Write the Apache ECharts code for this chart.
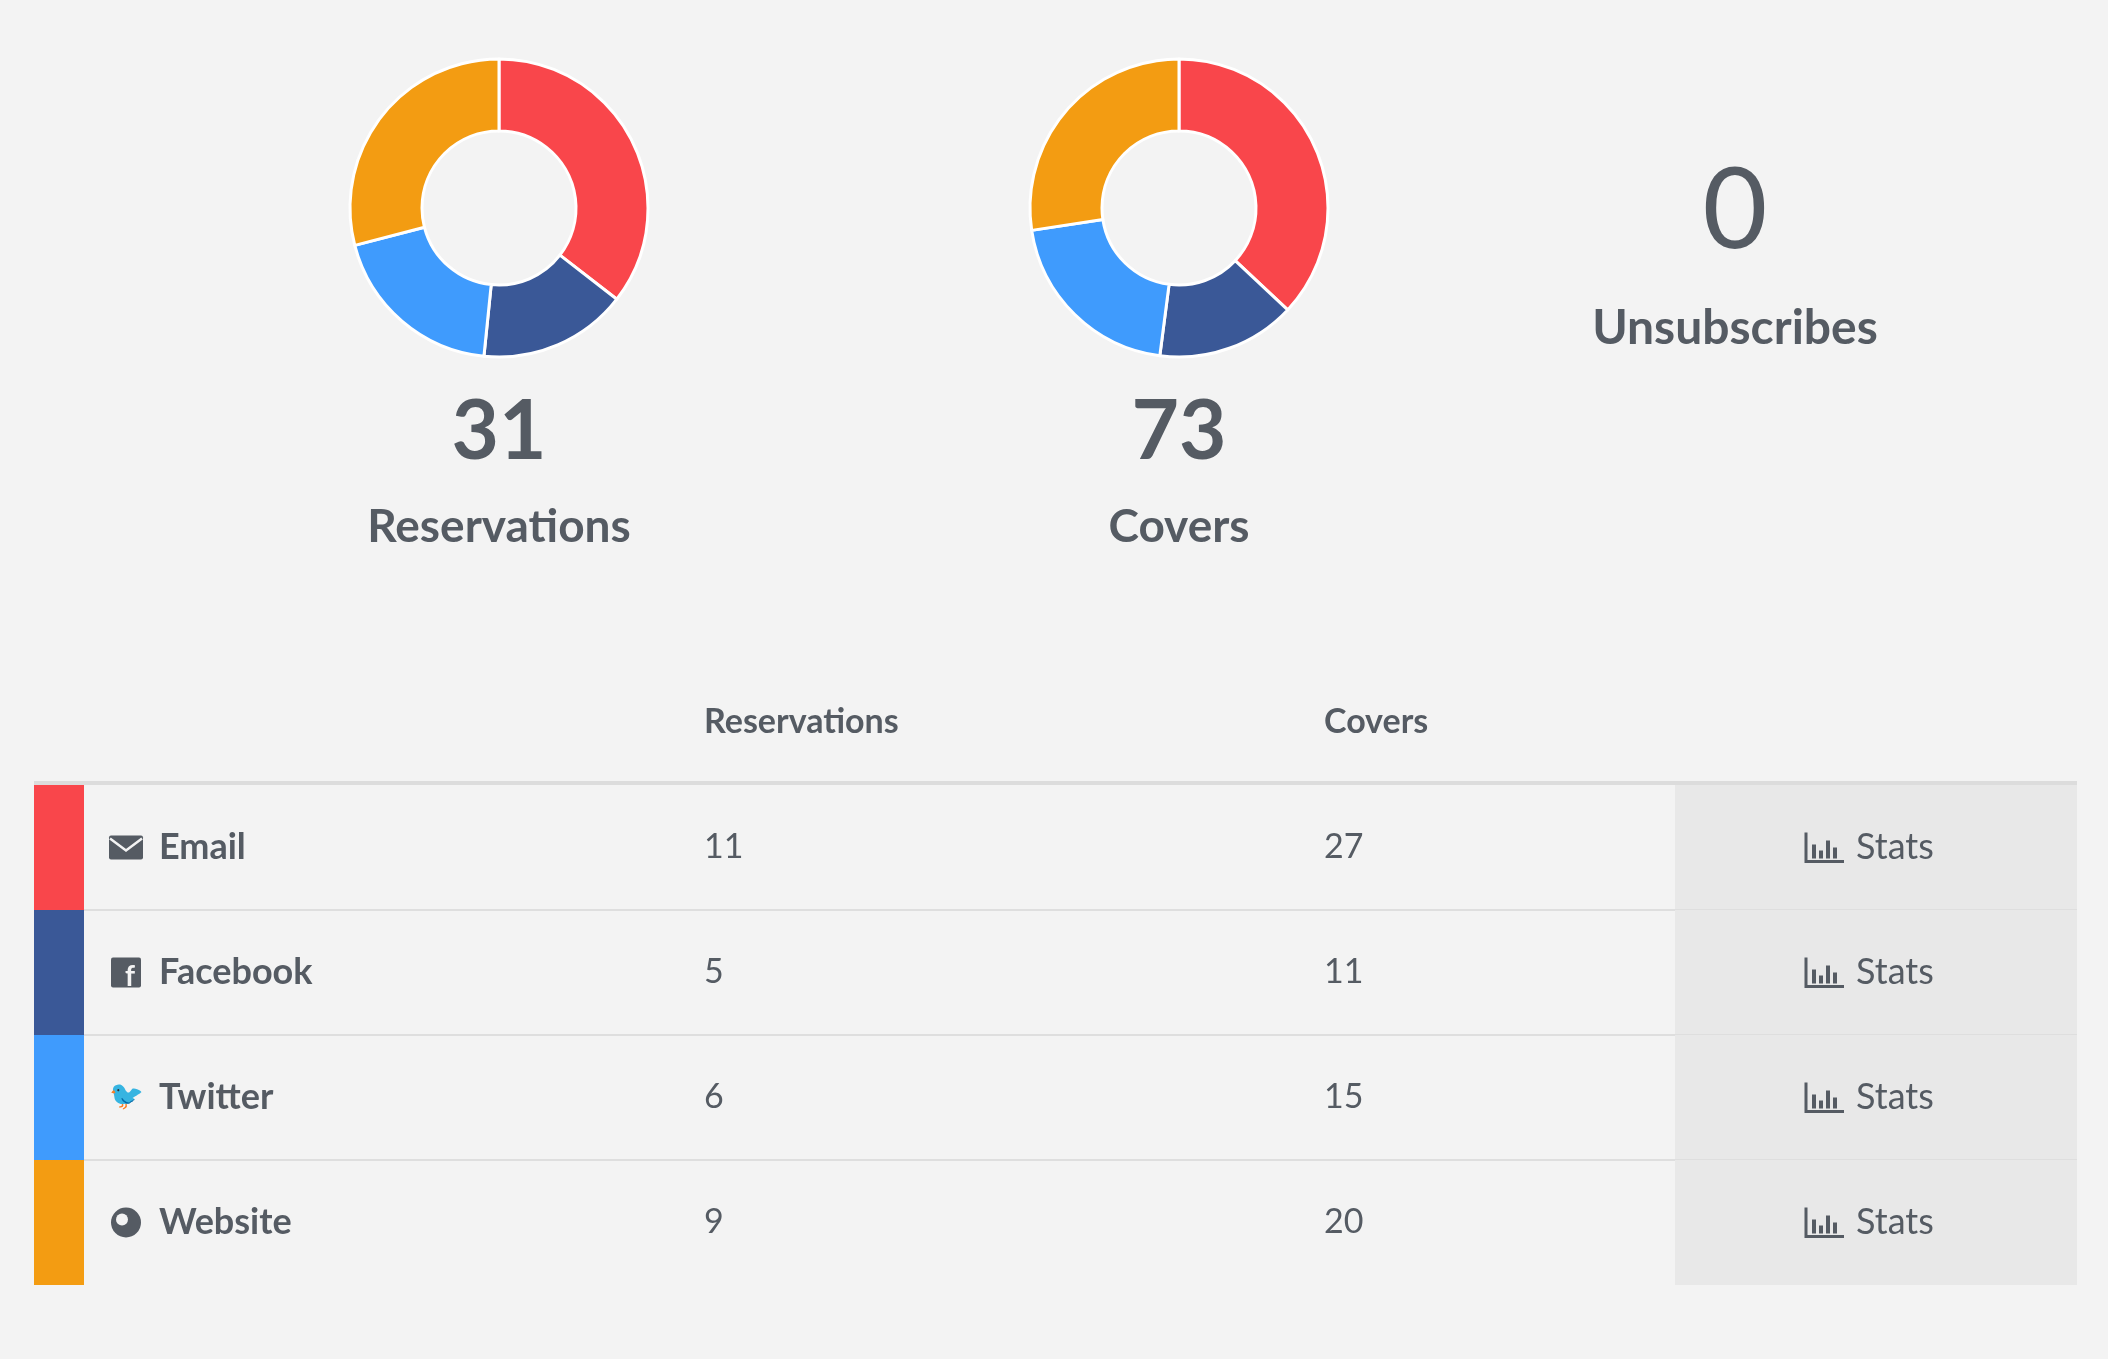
<!DOCTYPE html>
<html><head><meta charset="utf-8">
<script src="https://cdn.jsdelivr.net/npm/echarts@6/dist/echarts.min.js"></script>
<style>html,body{margin:0;background:#f3f3f3}#c{width:2108px;height:1359px}</style>
</head><body><div id="c"></div>
<script>
const channels = ['Email','Facebook','Twitter','Website'];
const reservations = [11,5,6,9];
const covers = [27,11,15,20];
const unsubscribes = 0;
const colors = ['#f9464b','#3a5897','#3f9bfd','#f39c12'];

const FONT = 'Lato, "Noto Sans", sans-serif';
const TXT = '#555b63';
const chart = echarts.init(document.getElementById('c'));
const sum = a => a.reduce((s,v)=>s+v,0);

function pie(cx, data){
  return {type:'pie', center:[cx,208], radius:[77,149], startAngle:90, clockwise:true,
    label:{show:false}, silent:true,
    itemStyle:{borderColor:'#fff', borderWidth:3},
    data: channels.map((n,i)=>({name:n, value:data[i], itemStyle:{color:colors[i]}}))};
}
const g = [];
function text(x,y,t,size,weight,align){
  g.push({type:'text', x, y, style:{text:t, fill:TXT, font:`${weight} ${size}px ${FONT}`, textAlign:align||'left', textVerticalAlign:'middle'}});
}
text(499,433,String(sum(reservations)),82,'bold','center');
text(499,527,'Reservations',46,'bold','center');
text(1179,433,String(sum(covers)),82,'bold','center');
text(1179,527,'Covers',46,'bold','center');
text(1735,212,String(unsubscribes),112,'normal','center');
text(1735,329,'Unsubscribes',48,'bold','center');
text(704,722,'Reservations',34,'bold','left');
text(1324,722,'Covers',34,'bold','left');
g.push({type:'rect', shape:{x:34,y:781,width:2043,height:4}, style:{fill:'#dcdcdc'}});
const rowH = 125, top0 = 785;
channels.forEach((n,i)=>{
  const y = top0 + i*rowH, cy = y + rowH/2;
  g.push({type:'rect', shape:{x:1675,y:y,width:402,height:rowH}, style:{fill:'#e8e8e8'}});
  g.push({type:'rect', shape:{x:34,y:y,width:50,height:rowH}, style:{fill:colors[i]}});
  if(i<channels.length-1) g.push({type:'rect', shape:{x:84,y:y+rowH-1,width:1993,height:2}, style:{fill:'#dedede'}});
  // icons
  const ix=126;
  if(i===0){
    g.push({type:'rect', shape:{x:ix-17,y:cy-12,width:34,height:24,r:2}, style:{fill:TXT}});
    g.push({type:'polyline', shape:{points:[[ix-16,cy-9],[ix,cy+3],[ix+16,cy-9]]}, style:{stroke:'#f3f3f3',lineWidth:2.5,fill:null}});
  } else if(i===1){
    g.push({type:'rect', shape:{x:ix-15,y:cy-15,width:30,height:30,r:2}, style:{fill:TXT}});
    g.push({type:'text', x:ix+4, y:cy+4, style:{text:'f', fill:'#f3f3f3', font:`bold 28px ${FONT}`, textAlign:'center', textVerticalAlign:'middle'}});
  } else if(i===2){
    g.push({type:'text', x:ix, y:cy, style:{text:'🐦', fill:TXT, font:`28px "DejaVu Sans"`, textAlign:'center', textVerticalAlign:'middle'}});
  } else {
    g.push({type:'circle', shape:{cx:ix,cy:cy,r:15}, style:{fill:TXT}});
    g.push({type:'circle', shape:{cx:ix-4,cy:cy-3,r:6}, style:{fill:'#f3f3f3'}});
  }
  text(159,cy,n,36,'bold','left');
  text(704,cy,String(reservations[i]),34,'normal','left');
  text(1324,cy,String(covers[i]),34,'normal','left');
  // stats icon
  const sx=1806;
  g.push({type:'polyline', shape:{points:[[sx,cy-15],[sx,cy+14],[sx+38,cy+14]]}, style:{stroke:TXT,lineWidth:3,fill:null}});
  [[6,14],[13,8],[20,18],[27,11]].forEach(([dx,h])=>g.push({type:'rect', shape:{x:sx+dx,y:cy+11-h,width:4,height:h}, style:{fill:TXT}}));
  text(1856,cy,'Stats',36,'normal','left');
});
chart.setOption({backgroundColor:'#f3f3f3', animation:false,
  series:[pie(499,reservations), pie(1179,covers)], graphic:g});
</script></body></html>
